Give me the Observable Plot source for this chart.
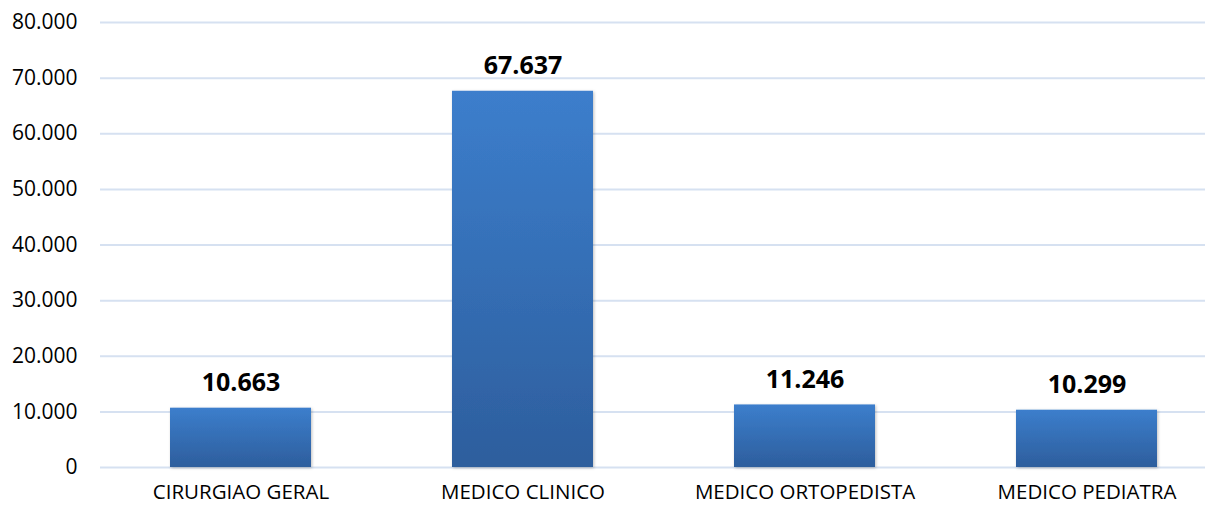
<!DOCTYPE html>
<html>
<head>
<meta charset="utf-8">
<script src="https://cdn.jsdelivr.net/npm/d3@7"></script>
<script src="https://cdn.jsdelivr.net/npm/@observablehq/plot@0.6"></script>
<style>
  html, body { margin: 0; padding: 0; background: #fff; }
  #chart { width: 1215px; height: 506px; }
</style>
</head>
<body>
<div id="chart"></div>
<script>
const categories = ["CIRURGIAO GERAL", "MEDICO CLINICO", "MEDICO ORTOPEDISTA", "MEDICO PEDIATRA"];
const values = [10663, 67637, 11246, 10299];
const yTicks = [0, 10000, 20000, 30000, 40000, 50000, 60000, 70000, 80000];

const data = categories.map((c, i) => ({category: c, value: values[i]}));
const fmt = v => d3.format(",")(v).replace(/,/g, ".");

const chart = Plot.plot({
  width: 1215,
  height: 506,
  marginTop: 22,
  marginBottom: 39,
  marginLeft: 100,
  marginRight: 10,
  style: {fontFamily: "'Open Sans', sans-serif", fontSize: "20px", color: "#000", background: "#fff"},
  x: {domain: categories, range: [99.5, 1227.5], paddingInner: 0.5, paddingOuter: 0.25, label: null},
  y: {domain: [0, 80000], label: null},
  marks: [
    Plot.gridY(yTicks, {stroke: "#d6e1f1", strokeOpacity: 1, strokeWidth: 2}),
    Plot.barY(data, {x: "category", y: "value", fill: "url(#barGrad)"}),
    Plot.text(data, {x: "category", y: "value", text: d => fmt(d.value), lineAnchor: "bottom", dy: -17, fontWeight: "bold", fontSize: 25, fill: "#000"}),
    Plot.axisY({ticks: yTicks, tickFormat: fmt, tickSize: 0, tickPadding: 23, fontSize: 21, fill: "#000"}),
    Plot.axisX({tickSize: 0, tickPadding: 17, fontSize: 20.5, fill: "#000"})
  ]
});

const defs = d3.select(chart).insert("defs", ":first-child");
const g = defs.append("linearGradient").attr("id", "barGrad").attr("x1", 0).attr("y1", 0).attr("x2", 0).attr("y2", 1);
g.append("stop").attr("offset", "0%").attr("stop-color", "#3c7ecc");
g.append("stop").attr("offset", "100%").attr("stop-color", "#2d5e9d");
const f = defs.append("filter").attr("id", "shadow").attr("x", "-10%").attr("y", "-10%").attr("width", "130%").attr("height", "130%");
f.append("feDropShadow").attr("dx", 1).attr("dy", 1).attr("stdDeviation", 1.5).attr("flood-color", "#000").attr("flood-opacity", 0.25);
d3.select(chart).selectAll("g[aria-label='bar'] rect").attr("filter", "url(#shadow)");

document.getElementById("chart").appendChild(chart);
</script>
</body>
</html>
